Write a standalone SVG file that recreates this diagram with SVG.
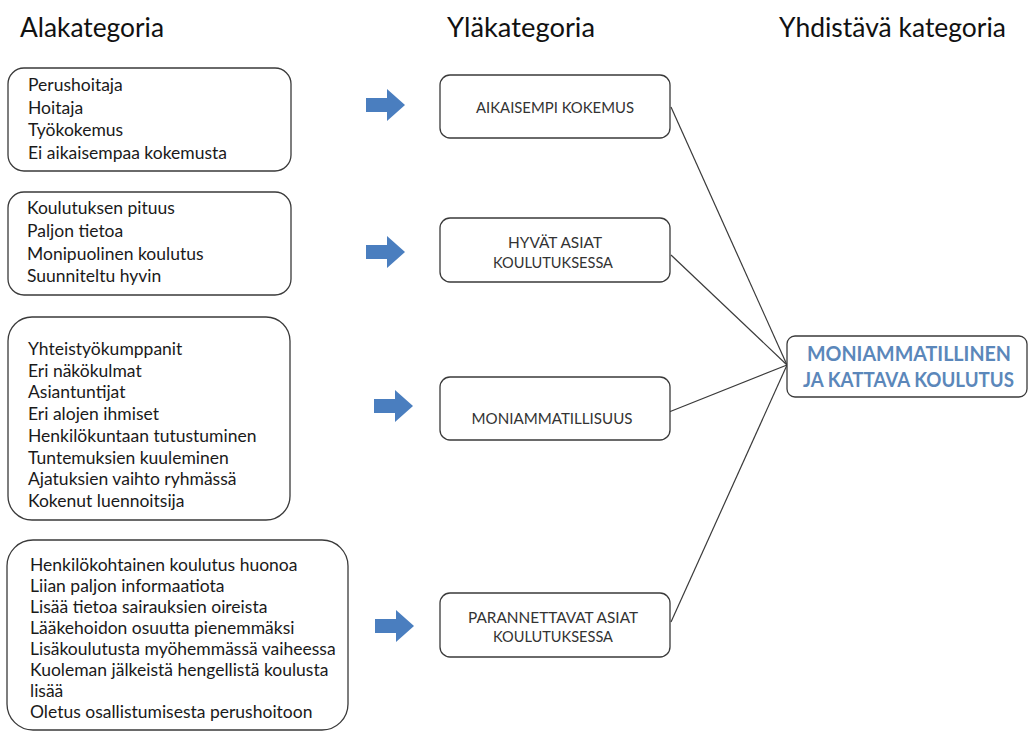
<svg xmlns="http://www.w3.org/2000/svg" xmlns:xlink="http://www.w3.org/1999/xlink" width="1028" height="731" viewBox="0 0 1028 731">
  <style>
    .box { fill: #ffffff; stroke: #3a3a3a; stroke-width: 1.3; }
    .title { font-family: Lato, "Liberation Sans", sans-serif; font-size: 26px; fill: #111111; }
    .item { font-family: Lato, "Liberation Sans", sans-serif; font-size: 17.5px; fill: #1a1a1a; }
    .cat { font-family: Lato, "Liberation Sans", sans-serif; font-size: 14.5px; fill: #333333; text-anchor: middle; }
    .main { font-family: Lato, "Liberation Sans", sans-serif; font-size: 20px; font-weight: bold; fill: #5b87ba; text-anchor: middle; }
    .conn { stroke: #3a3a3a; stroke-width: 1.2; fill: none; }
    .arrow { fill: #4a7ebf; }
  </style>
  <defs>
    <path id="blockArrow" d="M0,-7 H21 V-16 L39,0 L21,16 V7 H0 Z"/>
  </defs>
  <rect width="1028" height="731" fill="#ffffff"/>

  <g id="titles">
    <text class="title" x="20" y="37" textLength="144" lengthAdjust="spacingAndGlyphs">Alakategoria</text>
    <text class="title" x="447" y="37" textLength="148" lengthAdjust="spacingAndGlyphs">Yläkategoria</text>
    <text class="title" x="779" y="37" textLength="227" lengthAdjust="spacingAndGlyphs">Yhdistävä kategoria</text>
  </g>

  <g id="connectors">
    <line class="conn" x1="671" y1="107" x2="787" y2="365"/>
    <line class="conn" x1="671" y1="255" x2="787" y2="365"/>
    <line class="conn" x1="669" y1="412" x2="787" y2="365"/>
    <line class="conn" x1="671" y1="622" x2="787" y2="365"/>
  </g>

  <g id="arrows" class="arrow">
    <use xlink:href="#blockArrow" href="#blockArrow" x="366" y="105"/>
    <use xlink:href="#blockArrow" href="#blockArrow" x="366" y="252"/>
    <use xlink:href="#blockArrow" href="#blockArrow" x="374" y="406"/>
    <use xlink:href="#blockArrow" href="#blockArrow" x="375" y="626"/>
  </g>

  <g id="sub1">
    <rect class="box" x="8" y="68" width="283" height="103" rx="16"/>
    <text class="item" x="28" y="91">Perushoitaja</text>
    <text class="item" x="28" y="113.5">Hoitaja</text>
    <text class="item" x="28" y="136">Työkokemus</text>
    <text class="item" x="28" y="158.5">Ei aikaisempaa kokemusta</text>
  </g>

  <g id="sub2">
    <rect class="box" x="8" y="192" width="283" height="103" rx="16"/>
    <text class="item" x="27" y="214">Koulutuksen  pituus</text>
    <text class="item" x="27" y="237">Paljon tietoa</text>
    <text class="item" x="27" y="259.5">Monipuolinen  koulutus</text>
    <text class="item" x="27" y="282">Suunniteltu  hyvin</text>
  </g>

  <g id="sub3">
    <rect class="box" x="8" y="317" width="282" height="203" rx="24"/>
    <text class="item" x="28" y="355">Yhteistyökumppanit</text>
    <text class="item" x="28" y="376.7">Eri näkökulmat</text>
    <text class="item" x="28" y="398.4">Asiantuntijat</text>
    <text class="item" x="28" y="420">Eri alojen ihmiset</text>
    <text class="item" x="28" y="441.8">Henkilökuntaan  tutustuminen</text>
    <text class="item" x="28" y="463.5">Tuntemuksien  kuuleminen</text>
    <text class="item" x="28" y="485">Ajatuksien vaihto ryhmässä</text>
    <text class="item" x="28" y="507">Kokenut  luennoitsija</text>
  </g>

  <g id="sub4">
    <rect class="box" x="7" y="540" width="341" height="190" rx="26"/>
    <text class="item" x="30" y="571">Henkilökohtainen  koulutus huonoa</text>
    <text class="item" x="30" y="592">Liian paljon informaatiota</text>
    <text class="item" x="30" y="613">Lisää tietoa sairauksien oireista</text>
    <text class="item" x="30" y="634">Lääkehoidon  osuutta pienemmäksi</text>
    <text class="item" x="30" y="655">Lisäkoulutusta myöhemmässä  vaiheessa</text>
    <text class="item" x="30" y="676">Kuoleman  jälkeistä hengellistä koulusta</text>
    <text class="item" x="30" y="697">lisää</text>
    <text class="item" x="30" y="718">Oletus osallistumisesta perushoitoon</text>
  </g>

  <g id="cat1">
    <rect class="box" x="440" y="75" width="230" height="63" rx="10"/>
    <text class="cat" x="555" y="113" textLength="158" lengthAdjust="spacingAndGlyphs">AIKAISEMPI KOKEMUS</text>
  </g>

  <g id="cat2">
    <rect class="box" x="440" y="218" width="230" height="64" rx="10"/>
    <text class="cat" x="555" y="248" textLength="94" lengthAdjust="spacingAndGlyphs">HYVÄT ASIAT</text>
    <text class="cat" x="553" y="268" textLength="120" lengthAdjust="spacingAndGlyphs">KOULUTUKSESSA</text>
  </g>

  <g id="cat3">
    <rect class="box" x="440" y="377" width="230" height="63" rx="10"/>
    <text class="cat" x="552" y="424" textLength="161" lengthAdjust="spacingAndGlyphs">MONIAMMATILLISUUS</text>
  </g>

  <g id="cat4">
    <rect class="box" x="440" y="593" width="230" height="64" rx="10"/>
    <text class="cat" x="553" y="623" textLength="170" lengthAdjust="spacingAndGlyphs">PARANNETTAVAT ASIAT</text>
    <text class="cat" x="553" y="642" textLength="120" lengthAdjust="spacingAndGlyphs">KOULUTUKSESSA</text>
  </g>

  <g id="combined">
    <rect class="box" x="787" y="336" width="240" height="61" rx="8"/>
    <text class="main" x="909" y="361" textLength="204" lengthAdjust="spacingAndGlyphs">MONIAMMATILLINEN</text>
    <text class="main" x="908.5" y="387" textLength="211" lengthAdjust="spacingAndGlyphs">JA KATTAVA KOULUTUS</text>
  </g>
</svg>
